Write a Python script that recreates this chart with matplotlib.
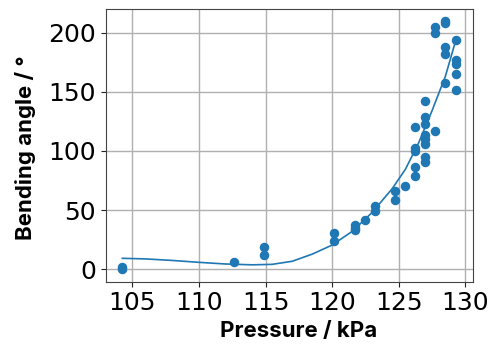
import numpy as np
import matplotlib
matplotlib.use('Agg')
import matplotlib.pyplot as plt

# measured points (pressure in kPa, bending angle in degrees)
pressure = [104.25, 104.25,
            112.6,
            114.9, 114.9,
            120.15, 120.15,
            121.7, 121.7, 121.7,
            122.45,
            123.2, 123.2,
            124.7, 124.7,
            125.45,
            126.25, 126.25, 126.25, 126.25, 126.25,
            127.0, 127.0, 127.0, 127.0, 127.0, 127.0, 127.0, 127.0,
            127.75, 127.75, 127.75,
            128.5, 128.5, 128.5, 128.5, 128.5,
            129.3, 129.3, 129.3, 129.3, 129.3]
angle = [2.2, 0.0,
         5.9,
         18.8, 11.8,
         30.4, 24.2,
         37.1, 35.0, 33.2,
         41.3,
         53.4, 49.5,
         66.1, 58.5,
         70.6,
         120.1, 102.1, 100.1, 86.6, 78.5,
         142.3, 128.3, 122.9, 113.3, 109.7, 106.3, 95.0, 90.8,
         117.0, 204.7, 199.7,
         209.8, 208.1, 187.8, 181.7, 157.8,
         194.1, 176.6, 173.8, 165.4, 151.3]

# fitted trend line
fit_pressure = [104.25, 106.0, 108.0, 110.0, 112.0, 114.0, 115.5, 117.0,
                118.5, 120.0, 121.5, 123.0, 124.5, 125.5, 126.5, 127.5,
                128.5, 129.3]
fit_angle = [9.3, 8.8, 7.5, 5.9, 4.5, 3.8, 4.2, 6.8,
             12.8, 20.5, 32.0, 48.0, 68.0, 84.5, 107.0, 134.0,
             163.0, 194.1]

BLUE = '#1f77b4'

fig = plt.figure(figsize=(4.96, 3.44), dpi=100)
ax = fig.add_axes([0.213, 0.181, 0.74, 0.794])

ax.scatter(pressure, angle, color=BLUE, s=34, zorder=3)
ax.plot(fit_pressure, fit_angle, color=BLUE, lw=1.2, zorder=3)

ax.set_xticks([105, 110, 115, 120, 125, 130])
ax.set_yticks([0, 50, 100, 150, 200])
ax.tick_params(labelsize=18, colors='#222222', labelcolor='black')
ax.grid(True, color='#b0b0b0', lw=1)
ax.set_axisbelow(True)
for s in ax.spines.values():
    s.set_color('#444444')

lab = dict(fontsize=16, fontweight='bold', family=['Inter', 'DejaVu Sans'])
ax.set_xlabel('Pressure / kPa', **lab)
ax.set_ylabel('Bending angle / °', **lab)
ax.xaxis.set_label_coords(0.527, -0.145)
ax.yaxis.set_label_coords(-0.19, 0.492)

fig.savefig('out.png', dpi=100)
